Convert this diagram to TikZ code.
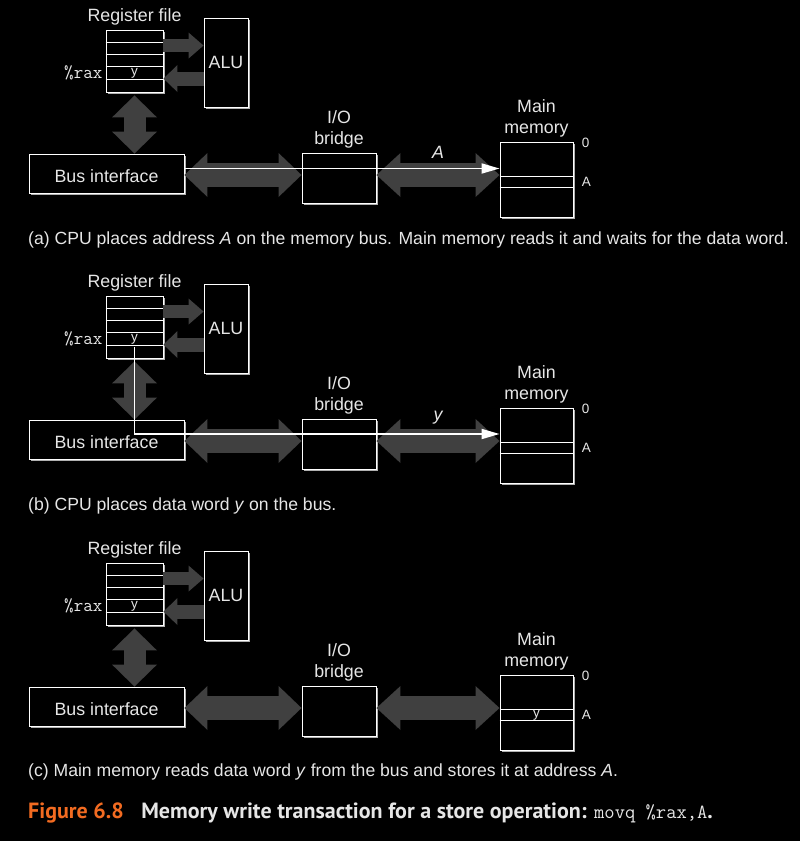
\documentclass[tikz,border=0pt]{standalone}
\usepackage{fontspec}
\setmainfont{Liberation Sans}
\newfontfamily\capfont{PT Sans}
\usetikzlibrary{arrows.meta,shadows}
\definecolor{fatgray}{HTML}{404040}
\definecolor{txtgray}{HTML}{E6E6E6}
\definecolor{shadowgray}{HTML}{B0B0B0}
\definecolor{figorange}{HTML}{F26B21}
\tikzset{
	unit/.style={draw=white, fill=black, line width=0.9pt, inner sep=0pt,
		drop shadow={shadow xshift=2pt, shadow yshift=-2pt, fill=shadowgray, opacity=1}},
	lbl/.style={text=txtgray, font=\fontsize{17.8}{21}\selectfont, align=center},
	tiny/.style={text=txtgray, font=\fontsize{13.5}{15}\selectfont},
	row/.style={draw=white, line width=0.7pt},
	fat/.style n args={3}{draw=fatgray, line width=#1,
		{Triangle[width=#2,length=#3,line width=0pt]}-{Triangle[width=#2,length=#3,line width=0pt]}},
	fatone/.style n args={3}{draw=fatgray, line width=#1,
		-{Triangle[width=#2,length=#3,line width=0pt]}},
	wire/.style={draw=white, line width=1.8pt, -{Triangle[width=10pt,length=18pt]}},
	caption/.style={anchor=west, text=txtgray, font=\fontsize{17.6}{20}\selectfont, inner sep=0pt}
}
\begin{document}
\begin{tikzpicture}[x=1pt,y=-1pt]
		\useasboundingbox (0,0) rectangle (800,841);
		\fill[black] (0,0) rectangle (800,841);

		\foreach \p/\dy in {a/0,b/266,c/533}{
			\begin{scope}[shift={(0,\dy)}]
				\node[unit, minimum width=57pt, minimum height=62pt] (reg\p) at (134.5,61) {};
				\foreach \r in {1,...,4}
					\draw[row] ([yshift=-\r*12.4pt]reg\p.north west) -- ([yshift=-\r*12.4pt]reg\p.north east);
				\node[lbl, above=1pt] at (reg\p.north) {Register file};
				\node[tiny] (cell\p) at ([yshift=-43.4pt]reg\p.north) {y};
				\node[text=txtgray, font=\ttfamily\fontsize{18.5}{20}\selectfont, anchor=east, inner sep=0pt] at ([yshift=-43.4pt,xshift=-3pt]reg\p.north west) {\%rax};

				\node[unit, lbl, minimum width=44pt, minimum height=89pt] (alu\p) at (226,62.5) {ALU};
				\node[unit, lbl, minimum width=155pt, minimum height=39pt, text height=17.8pt, text depth=0pt] (bus\p) at (106.5,173.5) {Bus interface};
				\node[unit, minimum width=74pt, minimum height=50pt] (bridge\p) at (339,178) {};
				\node[lbl, above=1pt] at (bridge\p.north) {I/O\\bridge};
				\node[unit, minimum width=73pt, minimum height=75pt] (mem\p) at (536.5,179.5) {};
				\draw[row] ([yshift=-35pt]mem\p.north west) -- ([yshift=-35pt]mem\p.north east);
				\draw[row] ([yshift=-46pt]mem\p.north west) -- ([yshift=-46pt]mem\p.north east);
				\node[lbl, above=1pt] at (mem\p.north) {Main\\memory};
				\node[tiny, anchor=west] at ([xshift=5pt,yshift=-1pt]mem\p.north east) {0};
				\node[tiny, anchor=west] at ([xshift=5pt,yshift=-40.5pt]mem\p.north east) {A};

				\coordinate (r2a\p) at ([yshift=-16pt]reg\p.north east);
				\coordinate (a2r\p) at ([yshift=-49pt]reg\p.north east);
				\coordinate (b2b\p) at ([yshift=-1.5pt]bus\p.east);
				\draw[fatone={13pt}{26pt}{15pt}] (r2a\p) -- (alu\p.west |- r2a\p);
				\draw[fatone={14pt}{27pt}{14pt}] (alu\p.west |- a2r\p) -- (a2r\p);
				\draw[fat={22pt}{45pt}{22pt}] ([yshift=-3pt]reg\p.south) -- (reg\p.south |- bus\p.north);
				\draw[fat={24pt}{44pt}{23pt}] (b2b\p) -- (bridge\p.west |- b2b\p);
				\draw[fat={24pt}{44pt}{24pt}] (bridge\p.east |- b2b\p) -- (mem\p.west |- b2b\p);
			\end{scope}
		}

		% (a) address A on the bus
		\coordinate (wa) at ([yshift=5pt]busa.east);
		\draw[wire] (wa) -- (mema.west |- wa);
		\path (bridgea.east |- wa) -- (mema.west |- wa) node[midway, lbl, font=\itshape\fontsize{17.8}{21}\selectfont, above=6pt] {A};

		% (b) data word y on the bus
		\coordinate (wb) at ([yshift=5.5pt]busb.east);
		\draw[wire] (cellb.south) |- (memb.west |- wb);
		\path (bridgeb.east |- wb) -- (memb.west |- wb) node[midway, lbl, font=\itshape\fontsize{17.8}{21}\selectfont, above=6pt] {y};

		% (c) y stored at A
		\node[tiny] at ([yshift=-40.5pt]memc.north) {y};

		\node[caption] (capa) at (28,240) {(a) CPU places address \textit{A} on the memory bus. Main memory reads it and waits for the data word.};
		\node[caption] (capb) at (28,506) {(b) CPU places data word \textit{y} on the bus.};
		\node[caption] (capc) at (28,772) {(c) Main memory reads data word \textit{y} from the bus and stores it at address \textit{A}.};
		\node[anchor=west, inner sep=0pt, font=\capfont\bfseries\fontsize{22}{24}\selectfont] (fig) at (28,813)
			{\textcolor{figorange}{Figure 6.8}\hspace{0.8em}\textcolor{txtgray}{Memory write transaction for a store operation: {\mdseries\ttfamily\fontsize{20}{24}\selectfont movq \%rax,A}.}};
	\end{tikzpicture}
\end{document}
